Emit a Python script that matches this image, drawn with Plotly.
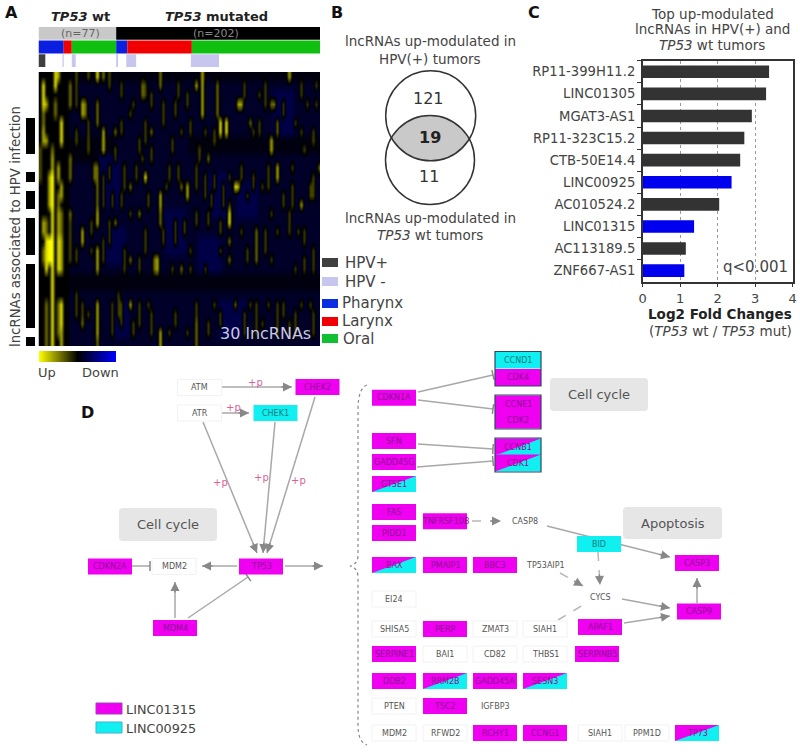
import numpy as np
import plotly.graph_objects as go

W, H = 800, 755
FONT = "DejaVu Sans"

# ---------- panel A data ----------
N_ROWS, N_COLS = 30, 94
HPV_ASSOC_ROWS = [5, 6, 7, 8, 11, 13, 14, 16, 17, 18, 19, 21, 22, 23, 24, 25, 26, 27, 29]
# z of a read background patch: (first col, last col, first row, last row, level name)
HEAT_BG = [
    (0, 9, 0, 29, "black"), (10, 93, 0, 0, "dark"), (50, 93, 7, 8, "dark"), (10, 93, 22, 23, "dark"),
    (10, 24, 7, 9, "dark"),
    (20, 26, 9, 14, "blue"), (56, 62, 11, 15, "blue"), (53, 60, 18, 21, "blue"), (78, 84, 2, 6, "blue"),
    (42, 48, 15, 19, "blue"), (22, 28, 17, 20, "blue"), (66, 72, 12, 15, "blue"), (60, 68, 25, 28, "blue"),
    (25, 29, 25, 28, "blue"),
]
# read streaks: (col, first row, last row, brightness 1-5)
HEAT_STREAKS = [
    (1,1,3,4),(1,4,5,2),(1,6,7,3),(0,8,11,1),(2,3,3,3),(2,7,7,3),(5,0,1,4),(6,0,0,3),(5,3,4,2),
    (4,8,8,2),(4,9,10,3),(4,11,14,5),(3,11,14,3),(7,5,7,4),(7,12,13,3),(6,10,11,3),
    (6,13,14,2),(10,1,3,2),(10,9,11,2),(14,3,4,3),(15,3,4,2),(12,2,3,1),(16,0,0,1),(19,0,0,4),(19,3,5,2),
    (21,0,0,2),(21,6,8,3),(19,10,15,2),(18,10,11,2),(25,6,6,2),(25,8,9,1),(27,1,2,1),(30,4,4,1),
    (34,1,2,2),(35,1,2,1),(35,5,7,1),(32,10,11,1),(35,11,11,4),(37,2,3,1),(37,6,6,2),(30,12,12,2),
    (40,0,1,2),(40,13,14,3),(42,12,12,1),(12,6,7,1),(16,5,6,1),(28,10,12,1),(45,3,4,1),(44,7,8,1),
    (54,0,4,3),(52,1,1,3),(49,2,3,1),(59,1,4,2),(66,3,3,3),(67,3,3,3),(77,3,3,2),(78,3,3,2),(83,0,0,3),
    (87,1,2,1),(92,1,1,1),(92,3,3,1),(60,5,6,4),(62,5,6,4),(70,5,5,2),(71,6,6,1),(79,5,6,2),(87,6,6,1),
    (77,7,8,3),(88,8,8,1),(56,9,9,2),(93,10,10,2),(79,10,11,3),(65,12,12,4),(66,12,12,3),(63,11,11,1),
    (49,12,13,3),(47,12,12,2),(52,10,12,1),(87,14,14,3),(63,14,14,1),(69,13,13,1),(74,12,12,1),
    (50,5,6,1),(55,6,6,1),(84,10,10,1),(90,12,13,1),(73,2,2,1),(47,6,6,1),
    (4,15,29,4),(3,18,20,5),(4,18,20,5),(1,16,17,3),(2,16,17,2),(2,18,21,4),(1,19,20,2),
    (6,15,17,3),(7,15,17,2),(6,18,21,4),(7,18,21,3),(7,25,27,4),(6,25,28,2),(7,28,29,3),(2,25,29,2),
    (10,15,15,2),(10,16,20,1),(14,17,18,3),(14,27,27,2),(17,16,17,1),(17,19,19,1),(16,26,26,1),
    (19,15,16,3),(19,19,21,3),(19,25,28,3),(21,18,20,1),(25,16,16,2),(30,15,15,1),(30,20,20,2),
    (30,25,25,3),(33,15,15,2),(33,20,21,1),(33,25,27,1),(39,20,21,3),(38,20,21,2),(40,15,16,2),
    (40,28,29,3),(36,25,25,1),(43,28,28,1),(12,24,26,1),(19,29,29,2),(14,25,26,1),(26,24,26,1),
    (63,15,16,4),(63,18,18,2),(63,20,20,2),(77,15,15,1),(52,15,16,1),(79,17,17,1),(86,17,17,1),
    (67,17,17,1),(72,17,20,2),(50,19,19,1),(60,19,19,1),(77,20,20,1),(47,21,21,2),(50,21,21,1),
    (55,21,21,1),(85,21,21,1),(88,20,21,1),(65,25,25,2),(52,25,26,1),(90,25,25,1),(70,25,25,1),
    (76,25,25,1),(87,25,25,1),(49,28,28,1),(52,27,29,2),(83,27,28,1),(58,25,25,1),(74,27,27,1),
    (12,0,1,1),(16,7,8,1),(23,0,1,1),(23,10,11,1),(27,5,6,1),(31,3,3,1),(33,7,8,1),(37,8,9,1),(41,3,5,1),
    (46,1,2,1),(43,10,11,1),(46,10,11,1),(21,11,14,1),(27,13,14,1),(24,13,14,1),(36,13,14,1),(34,9,9,1),
    (53,8,9,1),(57,13,14,1),(61,12,14,1),(67,10,11,1),(71,11,12,1),(76,10,12,1),(81,13,14,1),(84,12,14,1),
    (91,11,13,1),(68,1,2,1),(73,5,6,1),(75,1,3,1),(81,3,4,1),(85,5,5,1),(89,3,3,1),(58,6,7,1),(91,6,7,1),
    (55,11,13,1),(58,11,12,1),(23,16,18,1),(28,19,21,1),(35,17,19,1),(41,17,18,1),(44,21,21,1),(12,19,20,1),
    (27,25,27,1),(31,27,28,1),(37,26,28,1),(24,25,28,1),(45,26,27,1),(56,27,28,1),(60,26,27,1),(68,26,28,1),
    (72,25,28,1),(79,25,28,1),(81,25,26,1),(85,26,28,1),(91,26,28,1),(56,15,16,1),(60,16,17,1),(69,19,20,1),
    (75,17,19,1),(83,15,17,1),(88,17,18,1),(91,19,21,1),(45,16,18,1),(48,16,17,1),
]
HEAT_LEVELS = {"black": 0.5, "dark": 0.53, "navy": 0.58, "blue": 0.64}
STREAK_Z = {1: 0.37, 2: 0.29, 3: 0.18, 4: 0.07, 5: 0.0}

TRACK_NAMES = ["status", "site", "hpv"]
STATUS_COUNTS = [77, 202]
STATUS_LABELS = ["wt", "mut"]
SITE_COUNTS = [25, 8, 44, 11, 64, 127]
SITE_LABELS = ["Pharynx", "Larynx", "Oral", "Pharynx", "Larynx", "Oral"]
HPV_COUNTS = [7, 17, 1, 8, 4, 40, 2, 8, 10, 54, 28, 100]
HPV_LABELS = ["HPV+", "NA", "HPV-", "NA", "HPV-", "NA", "HPV-", "NA", "HPV-", "NA", "HPV-", "NA"]
TRACK_COLOR = {"wt": "#c9c9c9", "mut": "#000000", "Pharynx": "#0a1fe0", "Larynx": "#f00000", "Oral": "#10c010",
               "HPV+": "#404040", "HPV-": "#c6c6ee", "NA": "#ffffff"}

# ---------- panel C data ----------
LNC_NAMES = ["RP11-399H11.2", "LINC01305", "MGAT3-AS1", "RP11-323C15.2", "CTB-50E14.4",
             "LINC00925", "AC010524.2", "LINC01315", "AC113189.5", "ZNF667-AS1"]
LNC_LOG2FC = [3.37, 3.29, 2.91, 2.71, 2.60, 2.37, 2.04, 1.37, 1.15, 1.11]
LNC_IS_BLUE = [0, 0, 0, 0, 0, 1, 0, 1, 0, 1]

# ---------- panel D data ----------
NODE_NAMES = ["ATM","CHEK2","ATR","CHEK1","TP53","MDM2","CDKN2A","MDM4",
    "CDKN1A","SFN","GADD45G","GTSE1","FAS","PIDD1","TNFRSF10B","CASP8","BID","CASP3",
    "BAX","PMAIP1","BBC3","TP53AIP1","EI24","CYCS","CASP9","APAF1",
    "SHISA5","PERP","ZMAT3","SIAH1","SERPINE1","BAI1","CD82","THBS1","SERPINB5",
    "DDB2","RRM2B","GADD45A","SESN3","PTEN","TSC2","IGFBP3",
    "MDM2","RFWD2","RCHY1","CCNG1","SIAH1","PPM1D","TP73",
    "CCND1","CDK4","CCNE1","CDK2","CCNB1","CDK1"]
# fill code: m magenta (LINC01315), c cyan (LINC00925), s both, w white box, p plain text
NODE_KIND = ["w","m","w","c","m","w","m","m",
    "m","m","m","s","m","m","m","p","c","m",
    "s","m","m","p","w","p","m","m",
    "w","m","w","w","m","w","w","w","m",
    "m","s","m","s","w","m","p",
    "w","w","m","m","w","w","s",
    "c","m","m","m","s","s"]
NODE_CX = [199.5,317.5,199.5,275.5,261,174,110,175,
    394,394,394,394,394,394,445,525,599,697,
    394,445,495,545,394,600,699,600,
    394,445,495,545,394,445,495,545,597,
    394,445,495,545,394,445,495,
    394,445,495,545,600,647,697,
    518,518,518,518,518,518]
NODE_CY = [387.5,387,413,413,566.5,566.5,566.5,628,
    397.7,441,462,484,512,533,521.3,521,544,563,
    565,565,565,565,599,597,611.5,627,
    629,629,629,629,654,654,654,654,654,
    681,681,681,681,706,706,706,
    733,733,733,733,733,733,733,
    360,377.5,404,420,447,463]
COMPLEX_BOXES = [(495, 351.5, 541, 386), (495, 395, 541, 429), (495, 438, 541, 472)]
GROUPED = {"CCND1", "CDK4", "CCNE1", "CDK2", "CCNB1", "CDK1"}
# edges: tail x, tail y, head x, head y, type (a arrow, t tee, d dashed arrow, n dashed plain)
EDGES = [
    (222,387,292,387,"a"),(222,413,249,413,"a"),(203,422,257,553,"a"),(275,422,263,553,"a"),(315,397,267,553,"a"),
    (237,566,202,566,"a"),(132,566,150,566,"t"),(175,618,175,582,"a"),(188,618,248,577,"t"),(285,566,323,566,"a"),
    (418,392,493,375,"t"),(418,400,493,409,"t"),(418,444,493,449,"t"),(417,467,493,461,"t"),
    (472,521,501,521,"d"),(547,526,670,557,"a"),(598,552,600,585,"d"),(560,573,583,586,"d"),(558,620,583,605,"n"),
    (622,599,670,608,"a"),(624,623,670,616,"a"),(697,603,697,578,"a"),
]
PLUS_P = [(255,382),(233,407),(220,482),(261,477),(298,480)]

MAGENTA, CYAN = "#f000f0", "#10f0f0"

# ---------- heat matrix ----------
z = np.full((N_ROWS, N_COLS), HEAT_LEVELS["navy"])
for c0, c1, r0, r1, name in HEAT_BG:
    z[r0:r1 + 1, c0:c1 + 1] = HEAT_LEVELS[name]
for c, r0, r1, lvl in HEAT_STREAKS:
    z[r0:r1 + 1, c] = STREAK_Z[lvl]
flags = np.zeros((N_ROWS, 1))
flags[HPV_ASSOC_ROWS, 0] = 1


def dx(a, b):
    return [a / W, b / W]


def dy(top, bottom):
    return [1 - bottom / H, 1 - top / H]


fig = go.Figure()
fig.add_trace(go.Heatmap(z=z, xaxis="x2", yaxis="y2", zmin=0, zmax=1, zsmooth="best", hoverinfo="skip",
    colorscale=[[0, "#ffff00"], [0.5, "#000000"], [1, "#0000ff"]],
    colorbar=dict(orientation="h", x=38.5 / W, xanchor="left", y=1 - 362 / H, yanchor="bottom", len=76.5 / W,
                  lenmode="fraction", thickness=11, ticks="", showticklabels=False, outlinewidth=0, xpad=0, ypad=0)))
fig.add_trace(go.Heatmap(z=flags, xaxis="x3", yaxis="y2", zmin=0, zmax=1, showscale=False, hoverinfo="skip",
    colorscale=[[0, "#ffffff"], [1, "#000000"]]))

for track, counts, labels in zip(TRACK_NAMES, [STATUS_COUNTS, SITE_COUNTS, HPV_COUNTS],
                                 [STATUS_LABELS, SITE_LABELS, HPV_LABELS]):
    base = np.concatenate([[0], np.cumsum(counts)[:-1]])
    fig.add_trace(go.Bar(x=counts, base=base, y=[track] * len(counts), orientation="h", width=0.94,
        marker=dict(color=[TRACK_COLOR[l] for l in labels], line=dict(width=0)), xaxis="x4", yaxis="y4",
        showlegend=False, hoverinfo="skip"))

fig.add_trace(go.Bar(x=LNC_LOG2FC, y=LNC_NAMES, orientation="h", width=0.57, xaxis="x5", yaxis="y5",
    marker=dict(color=["#0000ee" if b else "#333333" for b in LNC_IS_BLUE], line=dict(width=0)),
    showlegend=False, hoverinfo="skip"))

shapes, ann = [], []


def text(x, y, s, size=13.5, color="#444444", anchor="center", angle=0):
    ann.append(dict(x=x, y=y, xref="x", yref="y", text=s, showarrow=False, xanchor=anchor, yanchor="middle",
                    font=dict(family=FONT, size=size, color=color), textangle=angle, borderpad=0, borderwidth=0))


def rect(x0, y0, x1, y1, fill, line=None, lw=1):
    shapes.append(dict(type="rect", xref="x", yref="y", x0=x0, y0=y0, x1=x1, y1=y1, fillcolor=fill,
                       line=dict(color=line or fill, width=lw if line else 0)))


# panel letters
for s, x, y in [("A", 11, 12), ("B", 337, 12), ("C", 534, 12), ("D", 87, 412)]:
    text(x, y, f"<b>{s}</b>", 16, "#111111")

# panel A texts
text(80, 16, "<b><i>TP53</i> wt</b>", 13, "#222222")
text(216, 16, "<b><i>TP53</i> mutated</b>", 13, "#222222")
text(80, 33, "(n=77)", 11, "#666666")
text(216, 33, "(n=202)", 11, "#888888")
text(15, 227, "lncRNAs associated to HPV infection", 13.3, "#444444", angle=-90)
text(265, 333, "30 lncRNAs", 16, "#c9c9e2")
text(38, 372, "Up", 13, "#444444", "left")
text(119, 372, "Down", 13, "#444444", "right")
for label, color, y0, tx, ty in [("HPV+", "#404040", 258, 345, 263), ("HPV -", "#c6c6ee", 277, 345, 282),
                                 ("Pharynx", "#0a2fe0", 299, 342, 303), ("Larynx", "#f00000", 317, 342, 321),
                                 ("Oral", "#10c030", 334, 343, 339)]:
    rect(322, y0, 338, y0 + 9, color)
    text(tx, ty, label, 15, "#444444", "left")

# panel B venn
C1, C2, R1, R2 = (430.7, 115.8), (430, 160), 45, 44.5
d = np.hypot(C1[0] - C2[0], C1[1] - C2[1])
half = np.arccos(d / 2 / R1)
a = np.linspace(np.pi / 2 - half, np.pi / 2 + half, 40)
lens_x = np.concatenate([C1[0] + R1 * np.cos(a), C2[0] + R2 * np.cos(a + np.pi)])
lens_y = np.concatenate([C1[1] + R1 * np.sin(a), C2[1] + R2 * np.sin(a + np.pi)])
path = "M " + " L ".join(f"{u:.2f} {v:.2f}" for u, v in zip(lens_x, lens_y)) + " Z"
shapes.append(dict(type="path", xref="x", yref="y", path=path, fillcolor="#c9c9c9", line=dict(width=0)))
for c, r in [(C1, R1), (C2, R2)]:
    shapes.append(dict(type="circle", xref="x", yref="y", x0=c[0] - r, x1=c[0] + r, y0=c[1] - r, y1=c[1] + r,
                       line=dict(color="#333333", width=1.5)))
text(430, 41, "lncRNAs up-modulated in")
text(430, 59, "HPV(+) tumors")
text(428, 98, "121", 16, "#333333")
text(430, 137, "<b>19</b>", 16, "#222222")
text(429, 176, "11", 16, "#333333")
text(430, 218, "lncRNAs up-modulated in")
text(430, 235, "<i>TP53</i> wt tumors")

# panel C texts
text(712, 14, "Top up-modulated")
text(712, 29, "lncRNAs in HPV(+) and")
text(712, 45, "<i>TP53</i> wt tumors")
text(720, 314, "<b>Log2 Fold Changes</b>", 13.5, "#222222")
text(720, 331, "(<i>TP53</i> wt / <i>TP53</i> mut)", 13.5)
text(788, 267, "q<0.001", 15, "#444444", "right")

# panel D backgrounds
for x0, y0, x1, y1, s, fs in [(119, 508, 217, 541, "Cell cycle", 13), (550, 378, 648, 411, "Cell cycle", 13),
                              (623, 507, 722, 539, "Apoptosis", 13)]:
    k = 4
    shapes.append(dict(type="path", xref="x", yref="y", fillcolor="#e6e6e6", line=dict(width=0),
        path=(f"M {x0+k} {y0} L {x1-k} {y0} Q {x1} {y0} {x1} {y0+k} L {x1} {y1-k} Q {x1} {y1} {x1-k} {y1} "
              f"L {x0+k} {y1} Q {x0} {y1} {x0} {y1-k} L {x0} {y0+k} Q {x0} {y0} {x0+k} {y0} Z")))
    text((x0 + x1) / 2, (y0 + y1) / 2, s, fs, "#555555")

# brace
shapes.append(dict(type="path", xref="x", yref="y", line=dict(color="#888888", width=1.2, dash="dot"),
    path="M 367 385 Q 358 388 358 410 L 358 555 Q 358 564 350 566 Q 358 568 358 577 L 358 725 Q 358 742 367 745"))

# edges
for x0, y0, x1, y1, kind in EDGES:
    dash = "dash" if kind in "dn" else "solid"
    color = "#b8b8b8" if kind in "dn" else "#a8a8a8"
    shapes.append(dict(type="line", xref="x", yref="y", x0=x0, y0=y0, x1=x1, y1=y1,
                       line=dict(color=color, width=1.5, dash=dash)))
    v = np.array([x1 - x0, y1 - y0], float)
    v /= np.hypot(*v)
    if kind == "t":
        n = np.array([-v[1], v[0]])
        shapes.append(dict(type="line", xref="x", yref="y", x0=x1 + 5 * n[0], y0=y1 + 5 * n[1], x1=x1 - 5 * n[0],
                           y1=y1 - 5 * n[1], line=dict(color="#888888", width=1.5)))
    if kind in "ad":
        ann.append(dict(x=x1, y=y1, ax=x1 - 12 * v[0], ay=y1 - 12 * v[1], axref="x", ayref="y", xref="x", yref="y",
                        text="", showarrow=True, arrowhead=2, arrowsize=1.2, arrowwidth=1.5, arrowcolor="#888888"))
for x, y in PLUS_P:
    text(x, y, "+p", 10, "#e0609a")

# nodes
NW, NH = 22, 8
for name, kind, cx, cy in zip(NODE_NAMES, NODE_KIND, NODE_CX, NODE_CY):
    grouped = name in GROUPED
    hw = 23 if grouped else NW
    hh = 8.5 if grouped else NH
    x0, x1, y0, y1 = cx - hw, cx + hw, cy - hh, cy + hh
    if kind == "m":
        rect(x0, y0, x1, y1, MAGENTA)
    elif kind == "c":
        rect(x0, y0, x1, y1, CYAN)
    elif kind == "s":
        rect(x0, y0, x1, y1, CYAN)
        shapes.append(dict(type="path", xref="x", yref="y", fillcolor=MAGENTA, line=dict(width=0),
                           path=f"M {x0} {y0} L {x1} {y0} L {x0} {y1} Z"))
    elif kind == "w":
        rect(x0, y0, x1, y1, "#ffffff", "#f2f2f2", 1)
    color = "#8a1090" if kind in "ms" else "#0f7a80" if kind == "c" else "#555555"
    text(cx, cy, name, 8, color)
for x0, y0, x1, y1 in COMPLEX_BOXES:
    shapes.append(dict(type="rect", xref="x", yref="y", x0=x0, y0=y0, x1=x1, y1=y1,
                       line=dict(color="#334466", width=1.2)))

# panel D legend
rect(96, 703, 122, 714, MAGENTA, "#a040c0", 1)
rect(96, 722, 122, 733, CYAN, "#40b0d0", 1)
text(126, 709, "LINC01315", 12.8, "#444444", "left")
text(126, 728, "LINC00925", 12.8, "#444444", "left")

hidden = dict(visible=False, fixedrange=True)
fig.update_layout(
    width=W, height=H, margin=dict(l=0, r=0, t=0, b=0, pad=0, autoexpand=False), paper_bgcolor="white",
    plot_bgcolor="rgba(0,0,0,0)",
    barmode="overlay", showlegend=False, shapes=shapes, annotations=ann,
    font=dict(family=FONT, color="#444444"),
    xaxis=dict(range=[0, W], domain=[0, 1], **hidden),
    yaxis=dict(range=[H, 0], domain=[0, 1], **hidden),
    xaxis2=dict(domain=dx(38.5, 320), range=[-0.5, N_COLS - 0.5], anchor="y2", **hidden),
    yaxis2=dict(domain=dy(72, 346), range=[N_ROWS - 0.5, -0.5], anchor="x2", **hidden),
    xaxis3=dict(domain=dx(26, 35), range=[-0.5, 0.5], anchor="y2", **hidden),
    xaxis4=dict(domain=dx(38.5, 320), range=[0, 279], anchor="y4", **hidden),
    yaxis4=dict(domain=dy(26.5, 67.5), type="category", categoryorder="array", categoryarray=TRACK_NAMES,
                autorange="reversed", anchor="x4", **hidden),
    xaxis5=dict(domain=dx(642.7, 792.7), range=[0, 4], anchor="y5", tickvals=[0, 1, 2, 3, 4], showgrid=True,
                griddash="dot", gridcolor="#999999", gridwidth=1, showline=True, linecolor="#333333", linewidth=1.5,
                mirror=True, ticks="outside", ticklen=4, tickcolor="#333333", tickfont=dict(family=FONT, size=13, color="#444444"),
                zeroline=False, fixedrange=True),
    yaxis5=dict(domain=dy(60.7, 281.7), type="category", categoryorder="array", categoryarray=LNC_NAMES,
                autorange="reversed", anchor="x5", showline=True, linecolor="#333333", linewidth=1.5, mirror=True,
                ticks="outside", ticklen=4, tickcolor="#333333", tickson="boundaries", showgrid=False, ticklabelstandoff=3,
                tickfont=dict(family=FONT, size=13.2, color="#444444"), fixedrange=True),
)

fig.write_html("out.html", config={"displayModeBar": False}, post_script="document.body.style.margin='0';")
